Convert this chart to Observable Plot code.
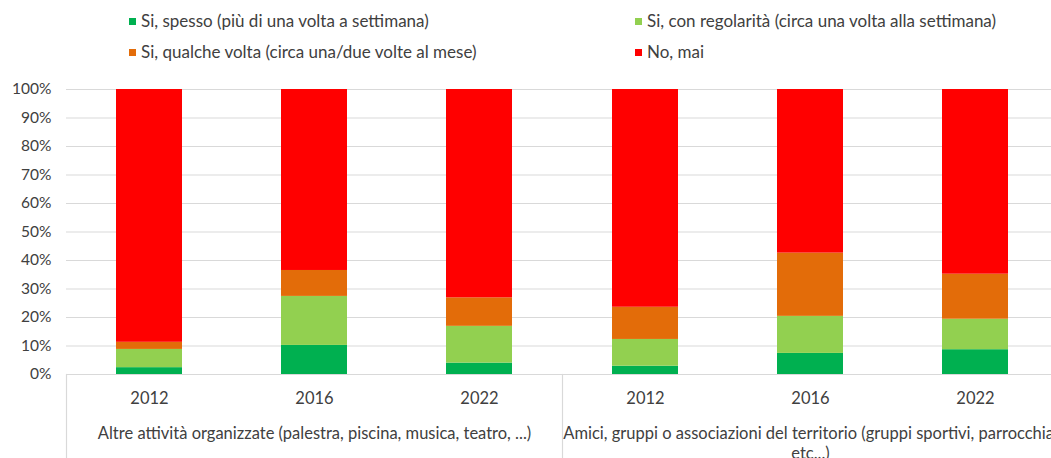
<!DOCTYPE html>
<html>
<head>
<meta charset="utf-8">
<script src="https://cdn.jsdelivr.net/npm/d3@7"></script>
<script src="https://cdn.jsdelivr.net/npm/@observablehq/plot@0.6"></script>
<style>
  html, body { margin: 0; padding: 0; background: #fff; overflow: hidden; }
  #wrap { position: relative; width: 1051px; height: 458px; font-family: Lato, "Open Sans", sans-serif; color: #404040; }
  #legend { position: relative; height: 70px; }
  .item { position: absolute; display: flex; align-items: center; font-size: 17px; line-height: 20px; white-space: nowrap; }
  .swatch { width: 7px; height: 7px; margin-right: 5px; }
  #chart svg { max-width: none !important; display: block; }
</style>
</head>
<body>
<div id="wrap">
  <div id="legend"></div>
  <div id="chart"></div>
</div>
<script>
// Survey categories and years
const groups = [
  "Altre attività organizzate (palestra, piscina, musica, teatro, ...)",
  "Amici, gruppi o associazioni del territorio (gruppi sportivi, parrocchia,\netc...)"
];
const years = ["2012", "2016", "2022"];

// Answer series (bottom to top of each stack)
const series = [
  "Si, spesso (più di una volta a settimana)",
  "Si, con regolarità (circa una volta alla settimana)",
  "Si, qualche volta (circa una/due volte al mese)",
  "No, mai"
];
const colors = ["#00b050", "#92d050", "#e36c09", "#ff0000"];

// Percentages, in order: group 1 (2012, 2016, 2022), group 2 (2012, 2016, 2022)
const spesso     = [2.4, 10.2, 4.0, 2.9, 7.4, 8.7];
const regolarita = [6.4, 17.2, 12.9, 9.4, 13.0, 10.7];
const qualche    = [2.5, 9.1, 10.0, 11.3, 22.2, 15.8];
const mai        = [88.7, 63.5, 73.1, 76.4, 57.4, 64.8];

const yTicks = [0, 10, 20, 30, 40, 50, 60, 70, 80, 90, 100];

// Long-format rows for the stacked bars
const valuesBySeries = [spesso, regolarita, qualche, mai];
const rows = [];
series.forEach((s, si) => {
  groups.forEach((g, gi) => {
    years.forEach((yr, yi) => {
      rows.push({serie: s, group: g, year: yr, value: valuesBySeries[si][gi * years.length + yi]});
    });
  });
});

// Legend (two columns, two rows)
const legendPos = [
  {left: 129, top: 11}, {left: 635, top: 11},
  {left: 129, top: 42}, {left: 635, top: 42}
];
const legend = document.getElementById("legend");
series.forEach((s, i) => {
  const it = document.createElement("div");
  it.className = "item";
  it.style.left = legendPos[i].left + "px";
  it.style.top = legendPos[i].top + "px";
  const sw = document.createElement("span");
  sw.className = "swatch";
  sw.style.background = colors[i];
  const tx = document.createElement("span");
  tx.textContent = s;
  it.append(sw, tx);
  legend.append(it);
});

const W = 1058, H = 388, mTop = 19, mBottom = 84, mLeft = 65;
const gridColor = "#d9d9d9";
const textColor = "#404040";

const chart = Plot.plot({
  width: W,
  height: H,
  marginTop: mTop,
  marginBottom: mBottom,
  marginLeft: mLeft,
  marginRight: 0,
  style: {fontFamily: "Lato, 'Open Sans', sans-serif", fontSize: "16.5px", color: textColor, background: "white"},
  fx: {domain: groups, padding: 0, axis: null},
  x: {domain: years, paddingInner: 0.6, paddingOuter: 0.3, axis: null},
  y: {domain: [0, 100], axis: null},
  color: {domain: series, range: colors},
  marks: [
    Plot.gridY(yTicks, {stroke: gridColor, strokeOpacity: 1, strokeWidth: 1.2}),
    Plot.axisY(yTicks, {tickSize: 0, tickPadding: 15, tickFormat: d => d + "%", label: null, fill: textColor, fontSize: 15.5}),
    Plot.barY(rows, {fx: "group", x: "year", y: "value", fill: "serie"}),
    Plot.ruleY([0], {stroke: gridColor, strokeWidth: 1.2}),
    Plot.frame({anchor: "left", stroke: gridColor, strokeWidth: 1.2, insetTop: H - mTop - mBottom, insetBottom: -mBottom}),
    Plot.axisX({tickSize: 0, tickPadding: 18, label: null, fill: textColor}),
    Plot.axisFx({anchor: "bottom", tickSize: 0, tickPadding: 50, label: null, lineHeight: 1.21, fill: textColor})
  ]
});
document.getElementById("chart").append(chart);
</script>
</body>
</html>
